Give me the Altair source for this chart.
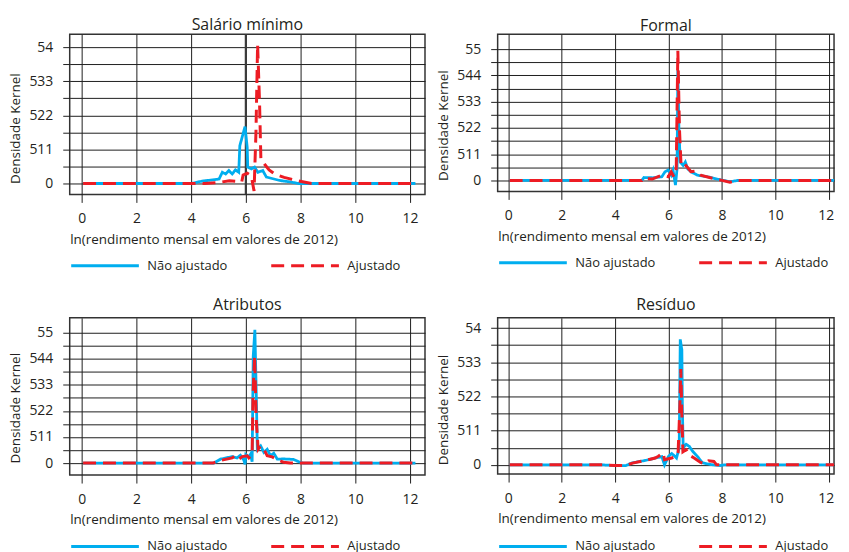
import altair as alt
import pandas as pd

SERIES = ["Não ajustado", "Ajustado"]
COLORS = ["#00aeef", "#ed1c24"]
DASHES = [[1, 0], [13, 7]]

X_TITLE = "ln(rendimento mensal em valores de 2012)"
Y_TITLE = "Densidade Kernel"
x_ticks = [0, 2, 4, 6, 8, 10, 12]

# ---- Salário mínimo ----
sm_title = "Salário mínimo"
sm_ylabels = ["0", "511", "522", "533", "54"]
sm_nao_x = [0.05, 4.0, 4.4, 5.02, 5.14, 5.26, 5.38, 5.5, 5.62, 5.74, 5.78, 5.97, 6.05, 6.07, 6.2, 6.32, 6.44, 6.62, 6.75, 7.23, 7.6, 7.93, 12.2]
sm_nao_y = [0, 0, 0.07, 0.13, 0.33, 0.28, 0.38, 0.28, 0.40, 0.33, 1.11, 1.67, 1.06, 0.48, 0.43, 0.48, 0.33, 0.38, 0.19, 0.09, 0.05, 0, 0]
sm_aj_x = [0.05, 4.5, 5.0, 5.4, 5.85, 5.9, 6.05, 6.2, 6.3, 6.37, 6.43, 6.5, 6.55, 6.7, 6.85, 7.05, 7.4, 7.9, 8.4, 12.2]
sm_aj_y = [0, 0, 0.03, 0.08, 0.05, 0.25, 0.3, 0.22, -0.22, 1.5, 4.08, 2.4, 0.7, 0.55, 0.4, 0.28, 0.18, 0.08, 0, 0]
sm_vline = [6]

# ---- Formal ----
fo_title = "Formal"
fo_ylabels = ["0", "511", "522", "533", "544", "55"]
fo_nao_x = [0.05, 5.0, 5.08, 5.4, 5.75, 5.87, 5.99, 6.1, 6.17, 6.26, 6.32, 6.35, 6.39, 6.44, 6.55, 6.63, 6.72, 6.84, 7.08, 7.45, 8.0, 8.3, 8.6, 12.2]
fo_nao_y = [0, 0, 0.11, 0.1, 0.14, 0.33, 0.39, 0.2, 0.39, -0.18, 0.44, 4.2, 1.96, 0.7, 0.57, 0.7, 0.44, 0.33, 0.2, 0.14, 0.01, -0.05, 0, 0]
fo_aj_x = [0.05, 5.0, 5.05, 5.39, 5.75, 5.99, 6.1, 6.2, 6.29, 6.35, 6.41, 6.47, 6.6, 6.84, 7.02, 7.2, 7.57, 8.0, 8.3, 8.6, 12.2]
fo_aj_y = [0, 0, 0.08, 0.05, 0.2, 0.14, 0.33, 0.14, 0.44, 4.94, 1.96, 0.57, 0.63, 0.33, 0.36, 0.2, 0.1, 0.0, -0.07, 0, 0]

# ---- Atributos ----
at_title = "Atributos"
at_ylabels = ["0", "511", "522", "533", "544", "55"]
at_nao_x = [0.05, 4.83, 5.07, 5.5, 5.68, 5.8, 5.93, 5.97, 6.0, 6.11, 6.17, 6.23, 6.27, 6.33, 6.38, 6.42, 6.54, 6.66, 6.78, 6.9, 7.02, 7.15, 7.38, 7.74, 7.96, 8.1, 12.2]
at_nao_y = [0, 0, 0.15, 0.25, 0.2, 0.3, 0.11, -0.05, 0.33, 0.24, 0.34, 0.05, 4.1, 5.11, 2.7, 0.53, 0.66, 0.41, 0.53, 0.28, 0.38, 0.15, 0.16, 0.14, 0.04, 0, 0]
at_aj_x = [0.05, 4.8, 5.07, 5.5, 5.62, 5.74, 5.87, 6.05, 6.11, 6.23, 6.26, 6.32, 6.38, 6.45, 6.54, 6.66, 6.78, 6.96, 7.2, 7.38, 7.62, 12.2]
at_aj_y = [0, 0, 0.1, 0.2, 0.28, 0.15, 0.25, 0.28, 0.2, 0.34, 2.57, 4.12, 1.68, 0.53, 0.66, 0.53, 0.28, 0.24, 0.11, 0.03, 0, 0]

# ---- Resíduo ----
re_title = "Resíduo"
re_ylabels = ["0", "511", "522", "533", "54"]
re_nao_x = [0.05, 3.5, 4.0, 4.4, 4.65, 5.14, 5.5, 5.75, 5.85, 6.0, 6.12, 6.24, 6.3, 6.4, 6.44, 6.5, 6.52, 6.55, 6.66, 6.78, 6.9, 7.08, 7.27, 7.57, 7.93, 8.1, 12.2]
re_nao_y = [0, 0, -0.02, -0.02, 0.06, 0.13, 0.2, 0.24, 0.0, 0.25, 0.33, 0.25, 0.2, 0.5, 3.67, 3.36, 1.63, 0.5, 0.6, 0.54, 0.4, 0.25, 0.06, 0.01, -0.02, 0, 0]
re_aj_x = [0.05, 3.5, 4.0, 4.4, 4.65, 5.14, 5.5, 5.62, 5.8, 5.85, 6.12, 6.3, 6.36, 6.42, 6.46, 6.5, 6.54, 6.66, 6.78, 6.96, 7.2, 7.38, 7.5, 7.7, 7.8, 12.2]
re_aj_y = [0, 0, -0.02, -0.02, 0.05, 0.13, 0.2, 0.25, 0.35, 0.15, 0.2, 0.25, 0.37, 1.6, 2.8, 1.5, 0.38, 0.44, 0.28, 0.2, 0.07, 0.03, 0.12, 0.1, 0, 0]

FONT = "Open Sans"
TXT = "#231f20"
GRID = "#1e1e1e"


def panel(title, nx, ny, ax, ay, ylabels, ydom, xdom, w, h, toff, leg_gap, flush=False, vline=None):
    df = pd.DataFrame({
        "x": nx + ax,
        "y": ny + ay,
        "serie": [SERIES[0]] * len(nx) + [SERIES[1]] * len(ax),
        "ord": list(range(len(nx))) + list(range(len(ax))),
    })
    n = len(ylabels) - 1
    yvals = [i * 0.5 for i in range(2 * n + 1)]
    label_expr = "datum.value % 1 == 0 ? " + str(ylabels) + "[datum.value] : ''"
    zero_pos = h * ydom[1] / (ydom[1] - ydom[0])
    xaxis_kw = dict(values=x_ticks, title=X_TITLE, tickSize=8,
                    labelPadding=9.5, titlePadding=6.5, titleAnchor="start")
    if flush:
        xaxis_kw.update(labelFlush=9, labelFlushOffset=5)
    xenc = alt.X("x:Q", scale=alt.Scale(domain=xdom, nice=False, zero=False),
                 axis=alt.Axis(**xaxis_kw))
    yenc = alt.Y("y:Q", scale=alt.Scale(domain=ydom, nice=False, zero=False),
                 axis=alt.Axis(values=yvals, labelExpr=label_expr, title=Y_TITLE,
                               tickSize=7, labelPadding=10, titlePadding=6,
                               titleAnchor="start", titleY=zero_pos))
    leg = alt.Legend(orient="none", legendX=0, legendY=h + leg_gap, direction="horizontal",
                     title=None, symbolType="stroke", symbolSize=4624,
                     symbolStrokeWidth=3, labelFont=FONT, labelFontSize=13,
                     labelColor=TXT, labelOffset=7, columnPadding=37)
    base = alt.Chart(df).encode(
        x=xenc, y=yenc,
        color=alt.Color("serie:N", scale=alt.Scale(domain=SERIES, range=COLORS), legend=leg),
        strokeDash=alt.StrokeDash("serie:N", scale=alt.Scale(domain=SERIES, range=DASHES), legend=leg),
        order=alt.Order("ord:Q"),
    )
    l1 = base.transform_filter(alt.datum.serie == SERIES[0]).mark_line(strokeWidth=2.8)
    l2 = base.transform_filter(alt.datum.serie == SERIES[1]).mark_line(strokeWidth=3)
    layers = [l1, l2]
    if vline:
        rule = alt.Chart(pd.DataFrame({"x": vline})).mark_rule(color="#3c3c3c", strokeWidth=2.2).encode(x=xenc)
        layers = [rule] + layers
    return alt.layer(*layers).properties(
        width=w, height=h,
        title=alt.TitleParams(title, font=FONT, fontSize=16, fontWeight="normal",
                              color=TXT, offset=toff, anchor="middle"),
    )


p1 = panel(sm_title, sm_nao_x, sm_nao_y, sm_aj_x, sm_aj_y, sm_ylabels, [-0.32, 4.38], [-0.44, 12.55], 357, 161, 0, 36, vline=sm_vline)
p2 = panel(fo_title, fo_nao_x, fo_nao_y, fo_aj_x, fo_aj_y, fo_ylabels, [-0.42, 5.57], [-0.4, 12.2], 338, 158, 0, 36, flush=True)
p3 = panel(at_title, at_nao_x, at_nao_y, at_aj_x, at_aj_y, at_ylabels, [-0.46, 5.57], [-0.44, 12.55], 357, 158, 5, 36)
p4 = panel(re_title, re_nao_x, re_nao_y, re_aj_x, re_aj_y, re_ylabels, [-0.27, 4.3], [-0.4, 12.2], 338, 157, 5, 37, flush=True)

res = dict(color="independent", strokeDash="independent", x="independent", y="independent")
row1 = alt.hconcat(p1, p2, spacing=10).resolve_scale(**res)
row2 = alt.hconcat(p3, p4, spacing=10).resolve_scale(**res)

chart = alt.vconcat(row1, row2, spacing=22).resolve_scale(**res).properties(
    padding={"left": 0, "top": 7, "right": 0, "bottom": 0},
    background="white",
).configure_view(
    stroke="#333333", strokeWidth=1.5
).configure_axis(
    grid=True, gridColor=GRID, gridWidth=1, gridOpacity=1,
    domain=False, tickColor=GRID, tickWidth=1,
    labelFont=FONT, labelFontSize=14, labelColor=TXT,
    titleFont=FONT, titleFontSize=13.5, titleFontWeight="normal", titleColor=TXT,
)

chart.save("out.html", embed_options={"renderer": "svg", "actions": False})
